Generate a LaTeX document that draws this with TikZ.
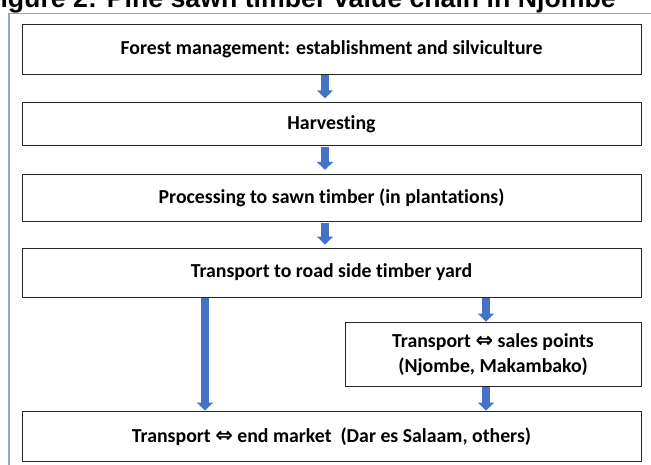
\documentclass[tikz,border=0pt]{standalone}
\usepackage{fontspec}
\setmainfont{Carlito}[Ligatures=NoCommon]
\newfontfamily\titlefont{Liberation Sans}
\newfontfamily\symfont{DejaVu Sans}
\usetikzlibrary{arrows.meta}
\definecolor{framegray}{RGB}{143,165,205}
\definecolor{flowblue}{RGB}{68,114,196}
\newcommand{\both}{{\symfont\bfseries\fontsize{21}{25}\selectfont ⇔}}

\begin{document}
\begin{tikzpicture}[x=1pt,y=-1pt,
  stagebox/.style={draw=black!85, line width=0.9pt, fill=white, inner sep=0pt, align=center,
    font=\fontsize{19.8}{25}\selectfont\bfseries},
  flow/.style={draw=flowblue, line width=8.5pt, -{Triangle[width=16pt,length=8pt]}}]
\useasboundingbox (0,0) rectangle (651,464);
\clip (0,0) rectangle (651,464);
\node[anchor=base west, inner sep=0pt, font=\titlefont\bfseries\fontsize{26.7}{30}\selectfont] (title) at (-16,7.5) {Figure 2: Pine sawn timber value chain in Njombe};
\draw[framegray, line width=1.5pt] (9,470) -- (9,13.3) -- (660,13.3);
\node[stagebox, minimum width=619, minimum height=49.7] (forest) at (331.5,49.15) {Forest management: establishment and silviculture};
\node[stagebox, minimum width=619, minimum height=43] (harvest) at (331.5,124.2) {Harvesting};
\node[stagebox, minimum width=619, minimum height=47.4] (process) at (331.5,198) {Processing to sawn timber (in plantations)};
\node[stagebox, minimum width=619, minimum height=49] (yard) at (331.5,272.5) {Transport to road side timber yard};
\node[stagebox, minimum width=296, minimum height=64.5] (sales) at (493,354.25) {Transport \both{} sales points\\(Njombe, Makambako)};
\node[stagebox, minimum width=619, minimum height=50.5] (market) at (331.5,436.25) {Transport \both{} end market~ (Dar es Salaam, others)};
\draw[flow] ([xshift=-6.5pt,yshift=-0.5pt]forest.south) -- ([xshift=-6.5pt,yshift=4pt]harvest.north);
\draw[flow] ([xshift=-6.5pt,yshift=-0.5pt]harvest.south) -- ([xshift=-6.5pt,yshift=4pt]process.north);
\draw[flow] ([xshift=-6.5pt,yshift=-0.5pt]process.south) -- ([xshift=-6.5pt,yshift=3pt]yard.north);
\draw[flow] ([xshift=-126.5pt,yshift=-0.5pt]yard.south) -- ([xshift=-126.5pt]market.north);
\draw[flow] ([xshift=154.5pt,yshift=-0.5pt]yard.south) -- ([xshift=-7pt]sales.north);
\draw[flow] ([xshift=-7pt,yshift=-0.5pt]sales.south) -- ([xshift=154.5pt]market.north);
\end{tikzpicture}
\end{document}
